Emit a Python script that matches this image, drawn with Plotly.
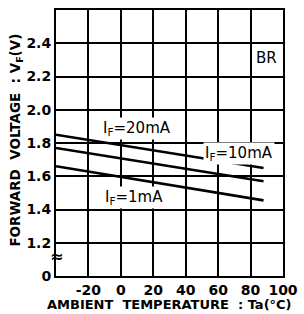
import plotly.graph_objects as go

# Data (temperature in °C, forward voltage in V)
temp = [-40, 88]
vf_20mA = [1.85, 1.65]
vf_10mA = [1.77, 1.57]
vf_1mA = [1.66, 1.455]

x_ticks = [-20, 0, 20, 40, 60, 80, 100]
y_ticks = [1.0, 1.2, 1.4, 1.6, 1.8, 2.0, 2.2, 2.4]
y_tick_text = ["0", "1.2", "1.4", "1.6", "1.8", "2.0", "2.2", "2.4"]

FONT = "DejaVu Sans"

fig = go.Figure()
for ys in (vf_20mA, vf_10mA, vf_1mA):
    fig.add_trace(go.Scatter(x=temp, y=ys, mode="lines",
                             line=dict(color="black", width=2.6),
                             showlegend=False, hoverinfo="skip"))

tf = dict(size=14, family=FONT, color="black", weight="bold")
fig.update_layout(
    width=304, height=314,
    margin=dict(l=56, r=21, t=10, b=38, autoexpand=False),
    paper_bgcolor="white", plot_bgcolor="white",
    font=dict(family=FONT, color="black", size=13),
    xaxis=dict(range=[-40, 100], tickvals=x_ticks, ticktext=[str(v) for v in x_ticks],
               showgrid=True, gridcolor="black", gridwidth=1.5,
               showline=True, linecolor="black", linewidth=2, mirror=True,
               zeroline=False, ticks="", tickfont=tf, automargin=False),
    yaxis=dict(range=[1.0, 2.6], tickvals=y_ticks, ticktext=y_tick_text,
               showgrid=True, gridcolor="black", gridwidth=1.5,
               showline=True, linecolor="black", linewidth=2, mirror=True,
               zeroline=False, ticks="", tickfont=tf, automargin=False),
)

ann = dict(showarrow=False, font=dict(family=FONT, size=15, color="black"))
fig.add_annotation(x=10, y=1.885, text="I<sub>F</sub>=20mA", bgcolor="white", **ann)
fig.add_annotation(x=73, y=1.735, text="I<sub>F</sub>=10mA", bgcolor="white", **ann)
fig.add_annotation(x=8, y=1.47, text="I<sub>F</sub>=1mA", bgcolor="white", **ann)
fig.add_annotation(x=90, y=2.31, text="BR", bgcolor="white", **ann)

# axis break mark
fig.add_annotation(x=-40, y=1.115, text="<b>≈</b>",
                   showarrow=False, font=dict(family=FONT, size=16, color="black"))

# axis titles
fig.add_annotation(xref="paper", yref="paper", x=0.5, y=-0.108, xanchor="center", yanchor="middle",
                   text="<b>AMBIENT  TEMPERATURE  : Ta(°C)</b>", showarrow=False,
                   font=dict(family=FONT, size=13, color="black"))
fig.add_annotation(xref="paper", yref="paper", x=-0.175, y=0.51, xanchor="center", yanchor="middle",
                   text="<b>FORWARD  VOLTAGE  : V<sub>F</sub>(V)</b>", textangle=-90, showarrow=False,
                   font=dict(family=FONT, size=13.5, color="black"))

fig.write_html("out.html", config={"displayModeBar": False},
               post_script="document.body.style.margin='0';document.body.style.overflow='hidden';")
